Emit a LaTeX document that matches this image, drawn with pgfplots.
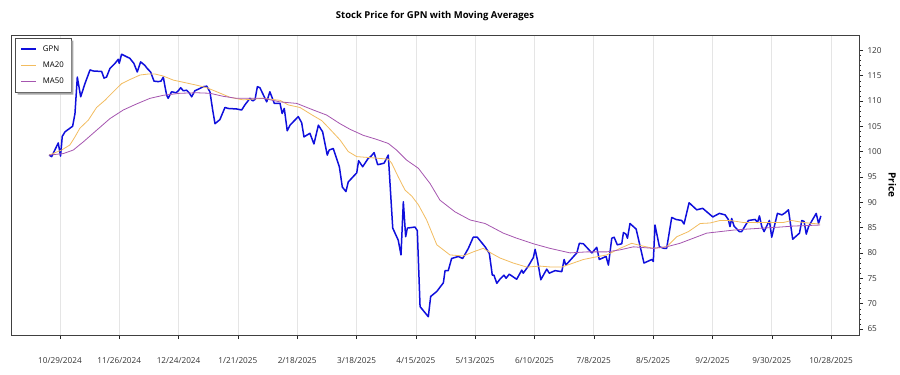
\documentclass[border=0pt]{standalone}
\usepackage{pgfplots}
\pgfplotsset{compat=1.18}
\usepackage{fontspec}
\setmainfont{Open Sans}
\definecolor{gpn}{RGB}{15,15,220}
\definecolor{maA}{RGB}{242,188,95}
\definecolor{maB}{RGB}{165,85,175}
\begin{document}
\begin{tikzpicture}
\useasboundingbox (-11pt,-40pt) rectangle (889pt,335pt);
\begin{axis}[
  at={(0,0)}, anchor=south west,
  scale only axis, width=848pt, height=300pt,
  xmin=-23.1, xmax=377.2, ymin=63.8, ymax=123.0,
  xtick={0,28,...,364},
  xticklabels={10/29/2024,11/26/2024,12/24/2024,1/21/2025,2/18/2025,3/18/2025,4/15/2025,5/13/2025,6/10/2025,7/8/2025,8/5/2025,9/2/2025,9/30/2025,10/28/2025},
  ytick={65,70,...,120},
  minor y tick num=4,
  xtick pos=lower, ytick pos=right, yticklabel pos=right,
  tick align=outside,
  major tick length=4pt, minor tick length=2pt,
  tick style={black!85},
  axis line style={black!75, line width=0.8pt},
  xmajorgrids, grid style={black!10, line width=0.6pt},
  ticklabel style={font=\fontsize{8.2}{10}\selectfont, text=black!80},
  xticklabel style={yshift=-15pt},
  yticklabel style={xshift=1pt},
  /pgf/number format/assume math mode=true,
  title={\bfseries Stock Price for GPN with Moving Averages},
  title style={font=\fontsize{9.5}{12}\selectfont\bfseries, yshift=5pt},
  ylabel={\bfseries Price},
  ylabel style={font=\fontsize{10}{12}\selectfont\bfseries, rotate=180, xshift=0pt},
  legend style={name=leg, at={(0.005,0.989)}, anchor=north west, draw=black!70, fill=white,
    font=\fontsize{7.8}{10}\selectfont, row sep=5pt,
    inner xsep=5pt, inner ysep=5pt,
    /tikz/every odd column/.append style={column sep=4pt}},
  legend cell align=left,
  legend image code/.code={\draw[#1] plot coordinates {(0pt,0pt) (7.5pt,0pt) (15pt,0pt)};},
]
\addplot[gpn, line width=1.5pt, line join=round] coordinates {
(-5.1,99.3)(-3.9,99.0)(-0.8,101.7)(0.3,99.1)(1.1,103.0)(2.4,103.9)(4.7,104.6)(6.0,105.0)(7.1,107.5)(8.2,114.7)(9.8,110.8)(11.8,113.4)(14.2,116.1)(15.7,115.9)(19.7,115.8)(20.8,114.5)(22.0,114.7)(23.6,116.4)(26.0,117.4)(27.5,118.2)(28.0,117.4)(29.1,119.2)(31.5,118.7)(33.0,118.4)(34.9,117.4)(36.5,115.7)(38.1,117.7)(40.1,117.0)(41.2,116.4)(42.8,115.7)(44.4,113.9)(46.4,113.8)(47.7,113.9)(48.8,114.7)(49.6,112.8)(50.4,111.1)(51.1,110.5)(52.7,111.8)(54.8,111.6)(55.9,112.0)(57.0,112.6)(58.2,112.0)(59.8,112.1)(61.0,111.6)(62.2,110.8)(63.7,112.0)(65.3,112.3)(67.7,112.8)(69.3,112.9)(70.8,111.8)(72.1,108.2)(73.2,105.5)(75.5,106.3)(77.9,108.7)(79.5,108.5)(83.4,108.4)(85.8,108.2)(87.3,109.2)(89.7,110.5)(91.0,110.0)(92.1,110.3)(93.2,112.8)(94.4,112.6)(97.6,109.8)(99.1,111.8)(101.2,109.5)(103.9,109.5)(104.9,107.5)(105.9,108.5)(107.3,104.1)(108.6,105.2)(112.5,106.9)(114.1,105.7)(115.2,102.9)(118.0,103.6)(119.9,101.5)(122.0,105.2)(124.0,103.9)(126.2,99.3)(127.1,100.3)(129.0,100.6)(131.9,97.0)(133.3,93.0)(135.0,92.1)(136.1,94.0)(140.1,95.8)(141.0,98.2)(142.9,97.0)(145.6,98.7)(146.7,99.0)(148.3,99.8)(150.0,97.4)(153.0,97.7)(155.0,99.3)(157.1,84.9)(159.7,82.5)(161.0,79.6)(162.1,90.1)(163.2,83.2)(164.0,84.9)(167.6,85.1)(168.7,84.4)(170.0,69.4)(173.9,67.4)(175.0,71.4)(177.9,72.4)(181.0,74.1)(181.8,76.5)(183.3,76.5)(184.9,78.9)(188.1,79.3)(190.1,78.9)(192.8,80.9)(195.1,83.1)(197.0,83.1)(200.7,81.2)(202.7,79.9)(204.1,75.6)(204.9,75.6)(206.2,74.0)(207.7,74.8)(209.6,75.6)(210.6,75.0)(212.1,75.8)(215.6,74.8)(218.0,76.6)(218.7,76.0)(221.1,77.4)(223.5,79.1)(224.3,80.7)(225.4,78.6)(227.0,74.7)(229.8,76.8)(231.0,76.0)(233.7,76.5)(236.9,76.3)(238.0,78.7)(238.8,77.6)(244.0,80.0)(245.2,81.9)(247.1,81.8)(251.1,80.0)(253.4,81.1)(254.6,78.7)(257.8,79.3)(258.9,77.6)(260.5,82.9)(261.6,83.1)(263.1,81.6)(265.2,81.8)(266.0,84.0)(267.2,83.7)(267.9,82.9)(269.1,85.8)(272.0,84.7)(275.7,78.0)(279.4,78.7)(280.1,78.3)(280.9,85.5)(283.0,81.2)(285.2,80.9)(286.4,80.9)(288.8,87.0)(290.8,86.6)(293.5,86.4)(294.6,85.7)(297.0,89.9)(300.6,88.5)(303.4,88.8)(308.2,87.1)(311.3,87.8)(314.0,87.5)(315.5,86.6)(316.3,85.2)(317.1,86.8)(318.2,85.3)(320.7,84.2)(321.8,84.2)(325.0,86.4)(328.2,86.6)(329.3,86.0)(330.2,87.3)(331.3,85.2)(332.4,84.2)(334.9,86.4)(336.0,83.1)(338.7,87.8)(340.8,87.5)(342.3,87.9)(343.9,88.5)(345.9,82.7)(349.1,83.9)(350.2,86.4)(351.3,86.2)(352.3,83.7)(353.4,85.2)(357.0,87.8)(358.1,85.8)(359.2,87.3)
};
\addlegendentry{GPN}
\addplot[maA, line width=0.8pt] coordinates {
(-5.1,99.3)(0.8,100.3)(4.7,101.3)(7.1,102.9)(9.4,104.6)(13.4,106.2)(17.3,108.7)(21.2,110.1)(25.2,111.8)(29.1,113.4)(33.0,114.2)(37.8,115.1)(41.7,115.3)(44.9,115.3)(48.8,114.9)(53.5,114.1)(59.0,113.6)(64.5,113.1)(69.3,112.6)(74.0,111.8)(80.3,110.7)(86.5,110.2)(96.0,110.5)(103.9,110.1)(107.8,109.2)(113.3,108.7)(119.1,107.2)(123.6,106.1)(127.5,104.4)(132.2,102.3)(136.1,100.0)(140.1,99.0)(146.4,98.8)(155.0,98.5)(156.6,97.7)(159.7,95.0)(162.9,92.4)(166.1,91.2)(169.2,89.5)(173.1,86.5)(177.9,81.6)(184.1,79.6)(190.4,79.4)(195.1,80.2)(199.8,80.9)(203.8,79.9)(207.7,79.0)(214.0,78.0)(220.4,77.2)(226.6,77.4)(232.2,77.2)(236.9,77.2)(242.3,78.0)(247.1,78.7)(251.8,79.1)(258.1,79.6)(264.4,80.9)(269.9,81.9)(274.6,81.4)(280.1,80.9)(286.4,81.2)(291.2,83.2)(296.7,84.2)(302.2,85.8)(306.9,85.9)(311.6,86.4)(316.3,86.4)(322.6,86.0)(328.9,86.0)(335.2,86.0)(341.5,86.0)(345.4,86.4)(350.9,86.0)(355.6,85.8)(358.8,85.7)
};
\addlegendentry{MA20}
\addplot[maB, line width=0.8pt] coordinates {
(-5.1,99.3)(1.6,99.6)(6.3,100.3)(11.0,101.9)(17.3,104.2)(23.6,106.5)(29.9,108.2)(36.2,109.4)(42.5,110.5)(48.8,111.1)(56.7,111.5)(64.5,111.6)(70.8,111.5)(77.1,110.9)(83.4,110.5)(96.0,110.5)(103.9,109.8)(111.8,109.5)(119.6,108.2)(125.9,107.2)(132.2,105.5)(136.9,104.4)(143.2,103.2)(149.5,102.4)(155.0,101.6)(158.9,100.3)(163.7,98.3)(169.2,96.7)(174.7,93.7)(179.4,90.4)(186.5,88.1)(193.6,86.5)(200.7,85.8)(209.3,83.9)(215.6,82.9)(223.5,81.8)(231.3,80.9)(240.8,80.0)(248.7,80.2)(258.1,80.2)(264.4,80.6)(270.7,81.2)(280.1,80.9)(286.4,81.2)(292.7,81.9)(299.0,82.9)(305.3,83.9)(311.6,84.2)(317.9,84.5)(324.3,84.7)(332.1,84.9)(340.0,85.1)(346.3,85.3)(352.6,85.4)(358.8,85.5)
};
\addlegendentry{MA50}
\end{axis}
\fill[black!35] ([xshift=2.4pt,yshift=-0.4pt]leg.south west) rectangle ([xshift=2.4pt,yshift=-2.4pt]leg.south east)
  ([xshift=0.4pt,yshift=-2.4pt]leg.north east) rectangle ([xshift=2.4pt,yshift=-0.4pt]leg.south east);
\end{tikzpicture}
\end{document}
